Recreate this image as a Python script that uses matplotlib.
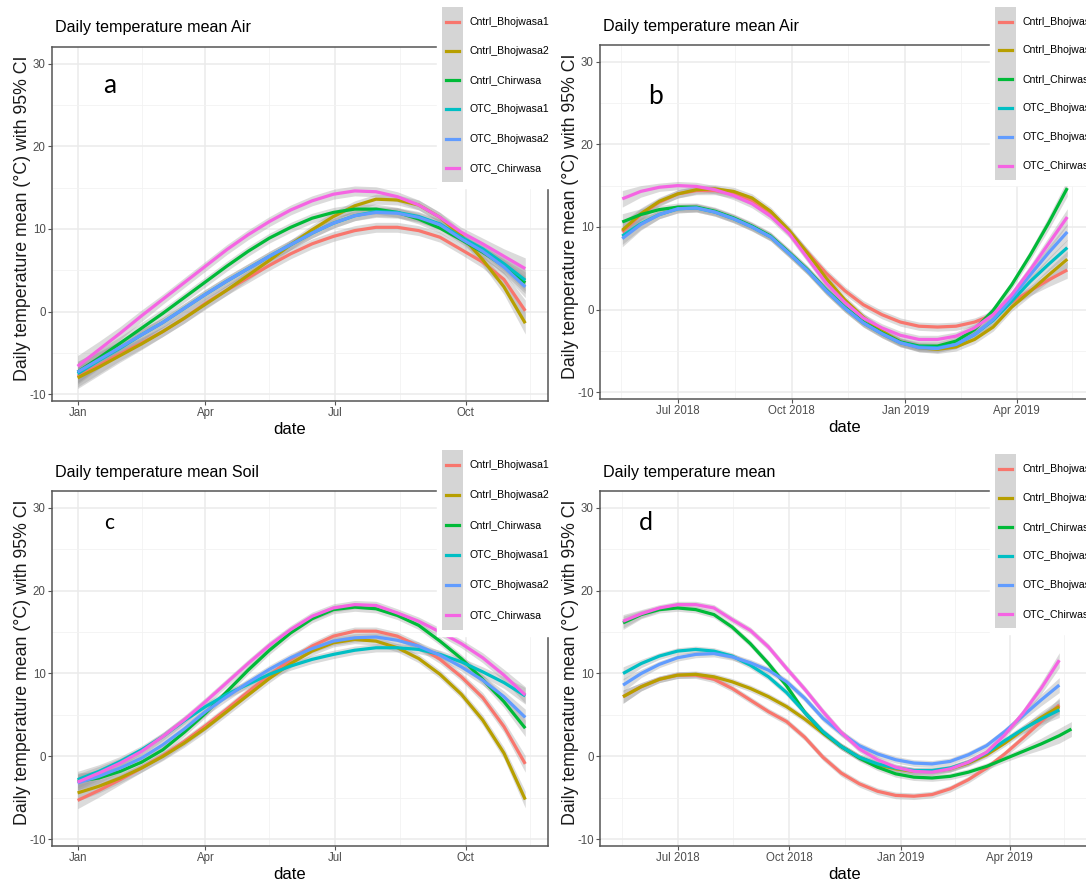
import numpy as np
import pandas as pd
import matplotlib
matplotlib.use("Agg")
import matplotlib.pyplot as plt
import matplotlib.dates as mdates
from matplotlib.patches import Rectangle
from matplotlib.lines import Line2D
from matplotlib import font_manager

plt.rcParams["axes.unicode_minus"] = False

# ---------------------------------------------------------------- data
series = ["Cntrl_Bhojwasa1", "Cntrl_Bhojwasa2", "Cntrl_Chirwasa",
          "OTC_Bhojwasa1", "OTC_Bhojwasa2", "OTC_Chirwasa"]
colors = ["#F8766D", "#B79F00", "#00BA38", "#00BFC4", "#619CFF", "#F564E3"]

# panels a and c: one calendar year
dates_year = ["2018-01-01", "2018-01-16", "2018-01-31", "2018-02-15", "2018-03-02",
              "2018-03-17", "2018-04-01", "2018-04-16", "2018-05-01", "2018-05-16",
              "2018-05-31", "2018-06-15", "2018-06-30", "2018-07-15", "2018-07-30",
              "2018-08-14", "2018-08-29", "2018-09-13", "2018-09-28", "2018-10-13",
              "2018-10-28", "2018-11-12"]
# panels b and d: May 2018 - May 2019
dates_span = ["2018-05-17", "2018-06-01", "2018-06-16", "2018-07-01", "2018-07-16",
              "2018-07-31", "2018-08-15", "2018-08-30", "2018-09-14", "2018-09-29",
              "2018-10-14", "2018-10-29", "2018-11-13", "2018-11-28", "2018-12-13",
              "2018-12-28", "2019-01-12", "2019-01-27", "2019-02-11", "2019-02-26",
              "2019-03-13", "2019-03-28", "2019-04-12", "2019-04-27", "2019-05-12"]
dates_span_long = dates_span + ["2019-05-22"]

# (a) Daily temperature mean Air
air_year = {
    "Cntrl_Bhojwasa1": [-7.8, -6.5, -5.1, -3.8, -2.4, -0.8, 1.0, 2.6, 4.1, 5.6, 7.0,
                        8.2, 9.1, 9.8, 10.2, 10.2, 9.8, 9.0, 7.5, 6.0, 3.9, 0.1],
    "Cntrl_Bhojwasa2": [-8.0, -6.7, -5.3, -3.9, -2.4, -0.8, 0.9, 2.6, 4.4, 6.2, 8.1,
                        9.9, 11.5, 12.8, 13.6, 13.5, 12.9, 11.4, 9.2, 6.3, 3.0, -1.4],
    "Cntrl_Chirwasa":  [-7.3, -5.6, -3.8, -2.0, -0.2, 1.7, 3.6, 5.5, 7.3, 8.9, 10.2,
                        11.3, 12.0, 12.4, 12.4, 12.0, 11.2, 10.1, 8.7, 7.2, 5.5, 3.5],
    "OTC_Bhojwasa1":   [-7.5, -5.9, -4.4, -2.8, -1.3, 0.4, 2.1, 3.7, 5.2, 6.7, 8.1,
                        9.5, 10.7, 11.6, 12.1, 12.0, 11.5, 10.6, 9.0, 7.6, 5.8, 3.8],
    "OTC_Bhojwasa2":   [-7.3, -5.8, -4.3, -2.8, -1.3, 0.4, 2.1, 3.7, 5.2, 6.7, 8.1,
                        9.5, 10.7, 11.6, 12.0, 11.9, 11.4, 10.5, 8.8, 7.3, 5.4, 3.0],
    "OTC_Chirwasa":    [-6.6, -4.6, -2.6, -0.5, 1.5, 3.5, 5.5, 7.5, 9.3, 10.9, 12.3,
                        13.4, 14.2, 14.6, 14.5, 13.9, 12.9, 11.4, 9.6, 8.2, 6.7, 5.2],
}
air_year_ci = [1.3, 1.0, 0.8, 0.7, 0.6, 0.6, 0.6, 0.6, 0.6, 0.6, 0.6,
               0.6, 0.6, 0.6, 0.6, 0.6, 0.6, 0.6, 0.6, 0.7, 0.9, 1.3]

# (b) Daily temperature mean Air, May 2018 - May 2019
air_span = {
    "Cntrl_Bhojwasa1": [9.4, 11.5, 13.0, 14.0, 14.4, 14.4, 14.0, 13.2, 11.6, 9.4, 6.9, 4.4,
                        2.3, 0.6, -0.6, -1.5, -2.0, -2.1, -2.0, -1.5, -0.6, 0.9, 2.3, 3.6, 4.8],
    "Cntrl_Bhojwasa2": [9.6, 11.6, 13.1, 14.0, 14.5, 14.6, 14.3, 13.5, 11.9, 9.6, 6.8, 3.8,
                        1.2, -0.9, -2.6, -3.9, -4.6, -4.8, -4.5, -3.6, -2.1, 0.3, 2.2, 4.2, 6.1],
    "Cntrl_Chirwasa":  [10.6, 11.5, 12.1, 12.4, 12.4, 11.9, 11.1, 10.1, 8.9, 6.9, 4.8, 2.4,
                        0.3, -1.5, -2.8, -3.9, -4.4, -4.4, -3.8, -2.4, -0.1, 3.0, 6.6, 10.5, 14.7],
    "OTC_Bhojwasa1":   [8.9, 10.4, 11.5, 12.2, 12.3, 11.8, 11.0, 10.0, 8.8, 6.8, 4.7, 2.3,
                        0.2, -1.6, -2.9, -4.0, -4.5, -4.6, -4.2, -3.0, -1.3, 1.0, 3.4, 5.5, 7.5],
    "OTC_Bhojwasa2":   [8.6, 10.3, 11.5, 12.2, 12.3, 11.8, 11.0, 10.0, 8.8, 6.8, 4.7, 2.3,
                        0.2, -1.6, -2.9, -4.0, -4.6, -4.7, -4.2, -3.0, -1.2, 1.4, 4.2, 6.9, 9.4],
    "OTC_Chirwasa":    [13.4, 14.3, 14.8, 15.0, 14.9, 14.5, 13.8, 12.8, 11.3, 9.2, 6.2, 3.2,
                        0.9, -1.0, -2.2, -3.1, -3.6, -3.6, -3.2, -2.2, -0.6, 1.8, 4.8, 8.0, 11.2],
}
air_span_ci = [1.0, 0.7, 0.5, 0.5, 0.5, 0.5, 0.5, 0.5, 0.5, 0.5, 0.5, 0.5,
               0.5, 0.5, 0.5, 0.5, 0.5, 0.5, 0.5, 0.5, 0.5, 0.5, 0.6, 0.8, 1.0]

# (c) Daily temperature mean Soil
soil_year = {
    "Cntrl_Bhojwasa1": [-5.3, -4.1, -2.8, -1.4, 0.1, 1.8, 3.7, 5.7, 7.8, 9.8, 11.7,
                        13.3, 14.5, 15.1, 15.1, 14.5, 13.3, 11.7, 9.6, 7.1, 3.6, -0.9],
    "Cntrl_Bhojwasa2": [-4.4, -3.6, -2.6, -1.4, 0.0, 1.6, 3.4, 5.4, 7.4, 9.4, 11.2,
                        12.7, 13.7, 14.1, 13.9, 13.1, 11.8, 9.9, 7.5, 4.4, 0.4, -5.2],
    "Cntrl_Chirwasa":  [-3.0, -2.6, -1.8, -0.7, 0.8, 2.9, 5.2, 7.8, 10.4, 12.8, 14.9,
                        16.6, 17.7, 18.0, 17.8, 17.0, 15.8, 13.9, 11.8, 9.3, 6.6, 3.4],
    "OTC_Bhojwasa1":   [-2.8, -1.8, -0.6, 0.8, 2.4, 4.3, 6.0, 7.5, 8.7, 9.9, 10.9,
                        11.7, 12.3, 12.8, 13.1, 13.1, 12.9, 12.3, 11.4, 10.2, 8.9, 7.3],
    "OTC_Bhojwasa2":   [-3.2, -2.4, -1.4, -0.2, 1.4, 3.3, 5.4, 7.2, 8.9, 10.5, 11.9,
                        13.0, 13.9, 14.3, 14.4, 14.0, 13.3, 12.2, 10.8, 9.2, 7.2, 4.7],
    "OTC_Chirwasa":    [-3.1, -2.0, -0.8, 0.6, 2.4, 4.4, 6.6, 8.9, 11.2, 13.4, 15.3,
                        16.9, 17.9, 18.3, 18.2, 17.3, 16.3, 15.0, 13.6, 11.9, 9.8, 7.4],
}
soil_year_ci = [1.0, 0.8, 0.6, 0.5, 0.5, 0.5, 0.5, 0.5, 0.5, 0.5, 0.5,
                0.5, 0.5, 0.5, 0.5, 0.5, 0.5, 0.5, 0.5, 0.6, 0.7, 1.0]

# (d) Daily temperature mean, May 2018 - May 2019
mean_span = {
    "Cntrl_Bhojwasa1": [7.2, 8.4, 9.3, 9.8, 9.8, 9.3, 8.2, 6.8, 5.4, 4.2, 2.3, -0.1,
                        -2.0, -3.3, -4.2, -4.7, -4.8, -4.6, -3.9, -2.8, -1.4, 0.3, 2.2, 4.2, 6.2],
    "Cntrl_Bhojwasa2": [7.2, 8.4, 9.3, 9.8, 9.9, 9.6, 9.0, 8.2, 7.2, 6.0, 4.5, 2.8,
                        1.2, -0.1, -1.0, -1.5, -1.8, -1.8, -1.5, -0.8, 0.2, 1.6, 3.2, 4.7, 6.0],
    "Cntrl_Chirwasa":  [16.1, 17.1, 17.7, 17.9, 17.7, 17.1, 15.6, 13.6, 11.2, 8.5, 5.3, 2.9,
                        1.2, -0.2, -1.3, -2.1, -2.5, -2.6, -2.4, -1.9, -1.2, -0.3, 0.6, 1.5, 2.5, 3.3],
    "OTC_Bhojwasa1":   [10.0, 11.2, 12.1, 12.7, 12.9, 12.7, 12.1, 11.0, 9.6, 7.7, 5.3, 3.0,
                        1.2, -0.1, -0.9, -1.4, -1.7, -1.7, -1.4, -0.7, 0.4, 1.9, 3.3, 4.5, 5.6],
    "OTC_Bhojwasa2":   [8.6, 10.0, 11.1, 11.9, 12.3, 12.4, 12.0, 11.3, 10.4, 9.0, 7.0, 4.6,
                        2.8, 1.3, 0.3, -0.4, -0.8, -0.9, -0.6, 0.2, 1.3, 3.0, 4.9, 6.8, 8.6],
    "OTC_Chirwasa":    [16.3, 17.2, 17.9, 18.3, 18.3, 17.9, 16.5, 15.2, 13.2, 10.6, 8.1, 5.4,
                        2.9, 0.9, -0.4, -1.3, -1.8, -1.9, -1.5, -0.7, 0.5, 2.6, 5.2, 8.2, 11.6],
}
mean_span_ci = [0.8, 0.5, 0.4, 0.4, 0.4, 0.4, 0.4, 0.4, 0.4, 0.4, 0.4, 0.4, 0.4,
                0.4, 0.4, 0.4, 0.4, 0.4, 0.4, 0.4, 0.4, 0.4, 0.5, 0.7, 0.9]

year_ticks = ["2018-01-01", "2018-04-01", "2018-07-01", "2018-10-01"]
year_ticklabels = ["Jan", "Apr", "Jul", "Oct"]
year_minor = ["2018-02-15", "2018-05-16", "2018-08-16", "2018-11-15"]
span_ticks = ["2018-07-01", "2018-10-01", "2019-01-01", "2019-04-01"]
span_ticklabels = ["Jul 2018", "Oct 2018", "Jan 2019", "Apr 2019"]
span_minor = ["2018-05-16", "2018-08-16", "2018-11-16", "2019-02-15", "2019-05-16"]

# ---------------------------------------------------------------- style
W, H = 1086, 890
names = {f.name for f in font_manager.fontManager.ttflist}
narrow = "Liberation Sans Narrow" if "Liberation Sans Narrow" in names else "Liberation Sans"

fig = plt.figure(figsize=(W / 100, H / 100), dpi=100)


def to_date(s):
    return mdates.date2num(pd.Timestamp(s))


class KeyHandler:
    # gray key box (ribbon fill) with a short coloured line in the middle
    def legend_artist(self, legend, orig_handle, fontsize, handlebox):
        x0, y0 = handlebox.xdescent, handlebox.ydescent
        w, h = handlebox.width, handlebox.height
        tr = handlebox.get_transform()
        box = Rectangle((-x0, -y0), w, h, facecolor="#D5D5D5", edgecolor="none",
                        transform=tr)
        yc = -y0 + h / 2
        line = Line2D([-x0 + 0.2 * w, -x0 + 0.8 * w], [yc, yc],
                      color=orig_handle.get_color(), lw=2.3, transform=tr)
        handlebox.add_artist(box)
        handlebox.add_artist(line)
        return line


def panel(box, dates, data, ci, xlim, ticks, ticklabels, minor, title, letter,
          letter_xy, letter_size, leg_xy, leg_row, xlabel_x, long_dates=None):
    l, t, r, b = box
    ax = fig.add_axes([l / W, 1 - b / H, (r - l) / W, (b - t) / H])
    fx = lambda px: (px - l) / (r - l)
    fy = lambda py: (b - py) / (b - t)

    ci = np.array(ci)
    handles = []

    def xy(name):
        y = np.array(data[name])
        ds = dates if len(y) == len(dates) else long_dates
        cc = ci if len(y) == len(ci) else np.append(ci, [ci[-1]] * (len(y) - len(ci)))
        return [pd.Timestamp(d) for d in ds], y, cc

    for name in series:
        xx, y, cc = xy(name)
        ax.fill_between(xx, y - cc, y + cc, color="#999999",
                        alpha=0.35, lw=0, zorder=2)
    for name, col in zip(series, colors):
        xx, y, cc = xy(name)
        ln, = ax.plot(xx, y, color=col, lw=2.3, zorder=3, solid_capstyle="butt")
        handles.append(ln)

    ax.set_xlim(to_date(xlim[0]), to_date(xlim[1]))
    ax.set_ylim(-10.8, 32.0)
    ax.set_xticks([to_date(d) for d in ticks])
    ax.set_xticklabels(ticklabels)
    ax.set_xticks([to_date(d) for d in minor], minor=True)
    ax.set_yticks([-10, 0, 10, 20, 30])
    ax.set_yticks([-5, 5, 15, 25], minor=True)
    ax.grid(which="major", color="#EBEBEB", lw=1.1)
    ax.grid(which="minor", color="#F2F2F2", lw=0.6)
    ax.set_axisbelow(True)
    for s in ax.spines.values():
        s.set_color("#555555")
        s.set_linewidth(1.1)
    ax.tick_params(which="major", length=3, width=0.8, color="#555555",
                   labelcolor="#4D4D4D", labelsize=8.3, pad=1.5)
    ax.tick_params(which="minor", length=0)
    for lab in ax.get_xticklabels() + ax.get_yticklabels():
        lab.set_fontfamily(narrow)

    ax.set_ylabel("Daily temperature mean (°C) with 95% CI", fontsize=12.8,
                  family="Liberation Sans", color="#1A1A1A")
    ax.yaxis.set_label_coords(fx(l - 21), fy((t + b) / 2 - 6))
    ax.set_xlabel("date", fontsize=12, family=narrow)
    ax.xaxis.set_label_coords(fx(xlabel_x), fy(b + 21))

    ax.text(fx(l + 3), fy(t - 19), title, transform=ax.transAxes, fontsize=11.6,
            family=narrow, ha="left", va="center", clip_on=False)
    ax.text(fx(letter_xy[0]), fy(letter_xy[1]), letter, transform=ax.transAxes,
            fontsize=letter_size, family="Lato", ha="center", va="center")

    fs = 7.6
    fs_px = fs * 100 / 72
    hh = (leg_row / fs_px - 0.245) / 0.65
    leg = ax.legend(handles, series, handler_map={Line2D: KeyHandler()},
                    loc="upper left", bbox_to_anchor=(leg_xy[0] / W, 1 - leg_xy[1] / H),
                    bbox_transform=fig.transFigure, borderaxespad=0,
                    prop={"family": narrow, "size": fs},
                    frameon=True, fancybox=False, framealpha=1, edgecolor="white",
                    facecolor="white", handlelength=21 / fs_px,
                    handleheight=hh, labelspacing=0,
                    handletextpad=0.6, borderpad=0.5)
    leg.set_zorder(10)
    return ax


panel((52, 47, 548, 401), dates_year, air_year, air_year_ci,
      ("2017-12-14", "2018-11-28"), year_ticks, year_ticklabels, year_minor,
      "Daily temperature mean Air", "a", (110, 86), 19, (437, 2), 29.2, 290)
panel((600, 45, 1092, 399), dates_span, air_span, air_span_ci,
      ("2018-04-29", "2019-06-01"), span_ticks, span_ticklabels, span_minor,
      "Daily temperature mean Air", "b", (656, 97), 19, (990, 2), 28.8, 845)
panel((52, 491, 548, 846), dates_year, soil_year, soil_year_ci,
      ("2017-12-14", "2018-11-28"), year_ticks, year_ticklabels, year_minor,
      "Daily temperature mean Soil", "c", (109, 523), 15, (437, 445), 30.0, 290)
panel((600, 491, 1092, 846), dates_span, mean_span, mean_span_ci,
      ("2018-04-28", "2019-06-08"), span_ticks, span_ticklabels, span_minor,
      "Daily temperature mean", "d", (646, 522), 18, (990, 449), 29.0, 845,
      long_dates=dates_span_long)

fig.savefig("out.png", dpi=100)
